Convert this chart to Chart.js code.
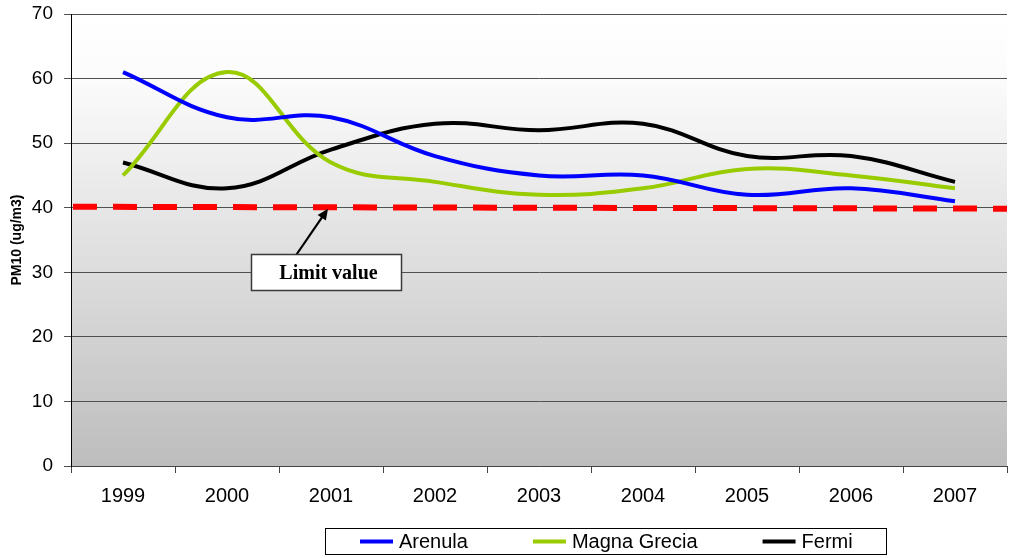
<!DOCTYPE html>
<html>
<head>
<meta charset="utf-8">
<script src="https://cdn.jsdelivr.net/npm/chart.js@4/dist/chart.umd.min.js"></script>
<style>
  html, body { margin: 0; padding: 0; background: #ffffff; }
  #wrap { width: 1009px; height: 558px; }
</style>
</head>
<body>
<div id="wrap"><canvas id="c" width="1009" height="558"></canvas></div>
<script>
// Yearly mean PM10 concentrations at three monitoring stations
const years = ['1999', '2000', '2001', '2002', '2003', '2004', '2005', '2006', '2007'];
const arenula = [61, 54, 54, 48, 45, 45, 42, 43, 41];
const magnaGrecia = [45, 61, 47, 44, 42, 43, 46, 45, 43];
const fermi = [47, 43, 49, 53, 52, 53, 48, 48, 44];
const yTickValues = [0, 10, 20, 30, 40, 50, 60, 70];
// Limit line, value at its left and right ends
const limitLine = [40.15, 39.85];
const limitLabel = 'Limit value';
const seriesNames = ['Arenula', 'Magna Grecia', 'Fermi'];
const seriesColors = ['#0000ff', '#99cc00', '#000000'];

const SANS = '"Liberation Sans", Arial, sans-serif';
const SERIF = '"Liberation Serif", "Times New Roman", serif';

// Grey-to-white wash behind the plot area
const plotBackground = {
  id: 'plotBackground',
  beforeDraw(chart) {
    const { ctx, chartArea: a } = chart;
    const g = ctx.createLinearGradient(0, a.top, 0, a.bottom);
    g.addColorStop(0, '#ffffff');
    g.addColorStop(0.15, '#fbfbfb');
    g.addColorStop(1, '#bdbdbd');
    ctx.save();
    ctx.fillStyle = g;
    ctx.fillRect(a.left, a.top, a.right - a.left, a.bottom - a.top);
    ctx.restore();
  }
};

// Dashed limit line plus the labelled callout pointing at it
const limitMarker = {
  id: 'limitMarker',
  afterDatasetsDraw(chart) {
    const { ctx, chartArea: a, scales: { x, y } } = chart;
    ctx.save();
    ctx.beginPath();
    ctx.rect(a.left, a.top - 10, a.right - a.left, a.bottom - a.top + 20);
    ctx.clip();
    ctx.strokeStyle = '#ff0000';
    ctx.lineWidth = 6;
    ctx.setLineDash([24, 16]);
    ctx.lineDashOffset = 38;
    ctx.beginPath();
    ctx.moveTo(a.left, y.getPixelForValue(limitLine[0]));
    ctx.lineTo(a.right, y.getPixelForValue(limitLine[1]));
    ctx.stroke();
    ctx.restore();

    // callout box, centred on the 30 grid line below the 2001 column
    const cx = x.getPixelForValue(2) - 5;
    const cy = y.getPixelForValue(30);
    const w = 150, h = 36;
    const bx = Math.round(cx - w / 2) + 0.5, by = Math.round(cy - h / 2) + 0.5;

    // arrow from box top to the limit line
    const sx = bx + 45, sy = by;
    const tx = x.getPixelForValue(2) - 3;
    const ty = (y.getPixelForValue(limitLine[0]) + y.getPixelForValue(limitLine[1])) / 2 + 1;
    const ang = Math.atan2(ty - sy, tx - sx);
    const head = 11;
    ctx.save();
    ctx.strokeStyle = '#000';
    ctx.fillStyle = '#000';
    ctx.lineWidth = 2.2;
    ctx.beginPath();
    ctx.moveTo(sx, sy);
    ctx.lineTo(tx - Math.cos(ang) * head * 0.8, ty - Math.sin(ang) * head * 0.8);
    ctx.stroke();
    ctx.beginPath();
    ctx.moveTo(tx, ty);
    ctx.lineTo(tx - head * Math.cos(ang) + 5 * Math.sin(ang), ty - head * Math.sin(ang) - 5 * Math.cos(ang));
    ctx.lineTo(tx - head * Math.cos(ang) - 5 * Math.sin(ang), ty - head * Math.sin(ang) + 5 * Math.cos(ang));
    ctx.closePath();
    ctx.fill();

    ctx.fillStyle = '#ffffff';
    ctx.fillRect(bx, by, w, h);
    ctx.strokeStyle = '#3a3a3a';
    ctx.lineWidth = 1.5;
    ctx.strokeRect(bx, by, w, h);
    ctx.fillStyle = '#000';
    ctx.font = 'bold 20px ' + SERIF;
    ctx.textAlign = 'center';
    ctx.textBaseline = 'middle';
    ctx.fillText(limitLabel, bx + w / 2 + 2, by + h / 2 + 1);
    ctx.restore();
  }
};

// Boxed legend below the axis
const boxedLegend = {
  id: 'boxedLegend',
  afterDraw(chart) {
    const { ctx } = chart;
    const box = { x: 325.5, y: 528.5, w: 561, h: 26 };
    ctx.save();
    ctx.fillStyle = '#ffffff';
    ctx.fillRect(box.x, box.y, box.w, box.h);
    ctx.strokeStyle = '#000';
    ctx.lineWidth = 1;
    ctx.strokeRect(box.x, box.y, box.w, box.h);
    ctx.font = '20px ' + SANS;
    ctx.textBaseline = 'middle';
    ctx.textAlign = 'left';
    const midY = box.y + box.h / 2;
    let px = 360;
    chart.data.datasets.forEach(ds => {
      ctx.strokeStyle = ds.borderColor;
      ctx.lineWidth = 4;
      ctx.beginPath();
      ctx.moveTo(px, midY);
      ctx.lineTo(px + 33, midY);
      ctx.stroke();
      px += 39;
      ctx.fillStyle = '#000';
      ctx.fillText(ds.label, px, midY + 1);
      px += ctx.measureText(ds.label).width + 65;
    });
    ctx.restore();
  }
};

const seriesValues = [arenula, magnaGrecia, fermi];

new Chart(document.getElementById('c'), {
  type: 'line',
  data: {
    labels: years,
    datasets: seriesValues.map((vals, i) => ({
      label: seriesNames[i],
      data: vals,
      borderColor: seriesColors[i],
      backgroundColor: seriesColors[i],
      borderWidth: 4,
      pointRadius: 0,
      pointHoverRadius: 0,
      tension: 0.4,
      borderCapStyle: 'butt',
      fill: false
    }))
  },
  options: {
    responsive: false,
    devicePixelRatio: 1,
    animation: false,
    layout: { padding: { top: 14, right: 2, bottom: 51, left: 0 } },
    plugins: {
      legend: { display: false },
      tooltip: { enabled: false }
    },
    scales: {
      x: {
        offset: true,
        grid: { offset: true, drawOnChartArea: false, drawTicks: true, tickLength: 7, color: '#444' },
        border: { color: '#444', width: 1 },
        ticks: { font: { family: SANS, size: 20 }, color: '#000', padding: 11, maxRotation: 0, autoSkip: false },
        afterFit(scale) { scale.height = 41; }
      },
      y: {
        min: yTickValues[0],
        max: yTickValues[yTickValues.length - 1],
        afterBuildTicks(scale) { scale.ticks = yTickValues.map(v => ({ value: v })); },
        ticks: { font: { family: SANS, size: 19 }, color: '#000', padding: 11 },
        grid: { color: '#505050', lineWidth: 1, tickLength: 7, drawTicks: true },
        border: { color: '#000', width: 1 },
        title: {
          display: true,
          text: 'PM10 (ug/m3)',
          font: { family: SANS, size: 14, weight: 'bold' },
          color: '#000',
          padding: { top: 9, bottom: 0 }
        },
        afterFit(scale) {
          scale.width = 71;
          scale.paddingTop = 0;
          scale.paddingBottom = 0;
        }
      }
    }
  },
  plugins: [plotBackground, limitMarker, boxedLegend]
});
</script>
</body>
</html>
